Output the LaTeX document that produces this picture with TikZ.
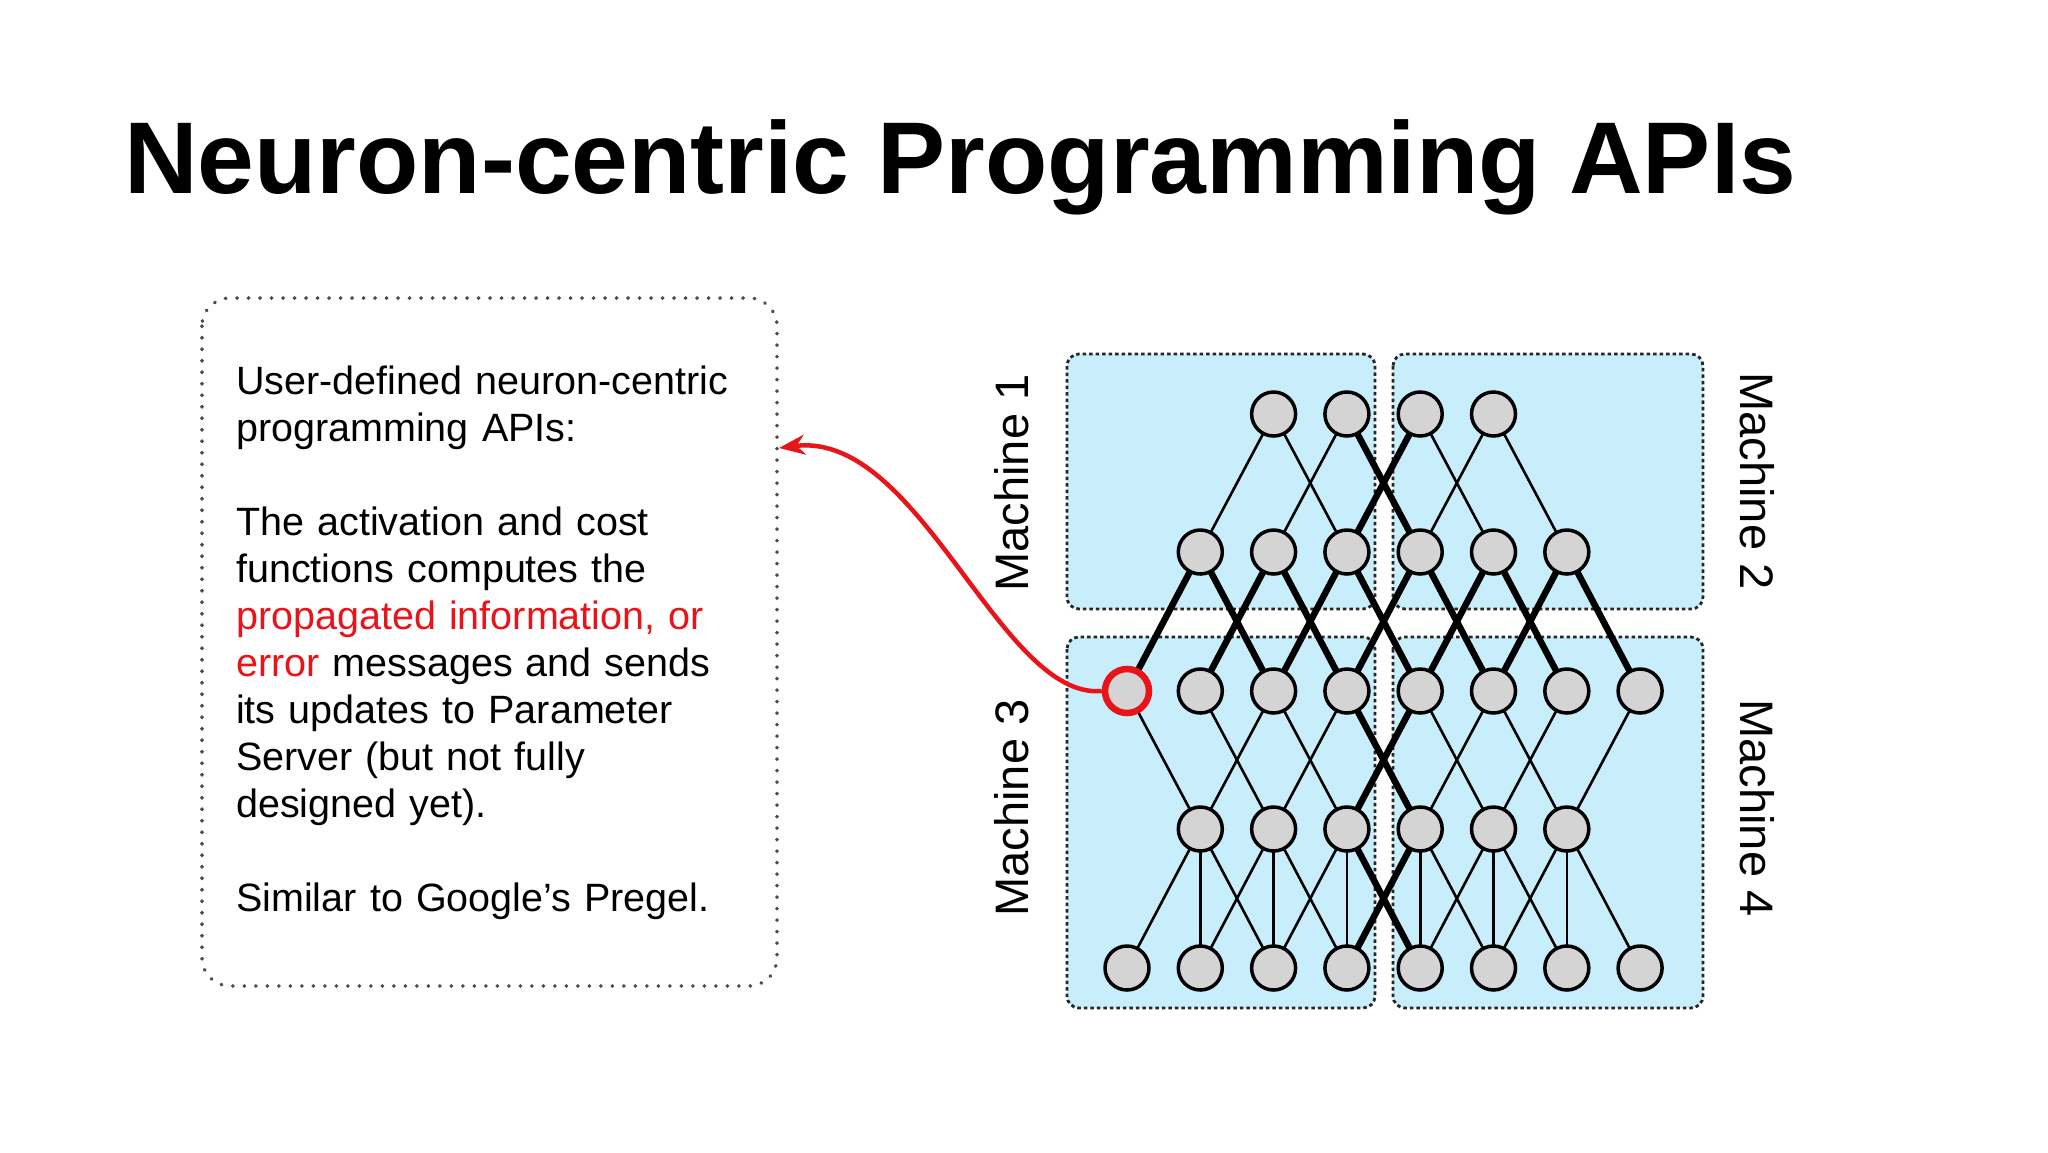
\documentclass[tikz,border=0pt]{standalone}
\usepackage{fontspec}
\setmainfont{Liberation Sans}
\usetikzlibrary{shapes.geometric,arrows.meta}
\definecolor{boxc}{HTML}{C8EEFC}
\definecolor{nodec}{HTML}{D4D4D4}
\definecolor{redc}{HTML}{E8141A}
\begin{document}
\begin{tikzpicture}[x=1pt,y=-1pt,
  neuron/.style={circle,draw=black,line width=3.5pt,fill=nodec,minimum size=44pt,inner sep=0pt},
  thin/.style={line width=2.6pt},
  thick/.style={line width=6.5pt},
  mbox/.style={draw=black!85,fill=boxc,dash pattern=on 3.5pt off 3pt,line width=2.8pt,rounded corners=12pt},
  mlabel/.style={font=\fontsize{47}{50}\selectfont},
  body/.style={font=\fontsize{39.5}{47}\selectfont,align=left,anchor=north west,inner sep=0pt,text width=600pt}]
\useasboundingbox (0,0) rectangle (2048,1152);
\fill[white] (0,0) rectangle (2048,1152);
\node[anchor=base west,inner sep=0pt,font=\fontsize{102}{110}\selectfont\bfseries] (title) at (124,193) {Neuron-centric Programming APIs};
% text box
\draw[dash pattern=on 0.5pt off 11pt,line width=3.6pt,line cap=round,gray!60!black,rounded corners=28pt] (202,298) rectangle (777,986);
\coordinate (tip) at (779,448);
\node[body] (txt) at (236,366) {User-defined neuron-centric\\programming APIs:\\[47pt]The activation and cost\\functions computes the\\\textcolor{redc}{propagated information, or}\\\textcolor{redc}{error} messages and sends\\its updates to Parameter\\Server (but not fully\\designed yet).\\[47pt]Similar to Google’s Pregel.};
% machine boxes
\draw[mbox] (1067,354) rectangle (1375,609);
\draw[mbox] (1393,354) rectangle (1703,609);
\draw[mbox] (1067,637) rectangle (1375,1008);
\draw[mbox] (1393,637) rectangle (1703,1008);
\node[mlabel,rotate=90] (m1) at (1012,483) {Machine 1};
\node[mlabel,rotate=-90] (m2) at (1757,481) {Machine 2};
\node[mlabel,rotate=90] (m3) at (1012,808) {Machine 3};
\node[mlabel,rotate=-90] (m4) at (1757,808) {Machine 4};
% node centres
\foreach \c in {2,...,5} \coordinate (n1-\c) at ({1127+73.3*\c},414);
\foreach \c in {1,...,6} \coordinate (n2-\c) at ({1127+73.3*\c},552);
\foreach \c in {0,...,7} \coordinate (n3-\c) at ({1127+73.3*\c},691);
\foreach \c in {1,...,6} \coordinate (n4-\c) at ({1127+73.3*\c},829);
\foreach \c in {0,...,7} \coordinate (n5-\c) at ({1127+73.3*\c},968);
\foreach \a/\b/\s in {2/1/thin,2/3/thin,3/2/thin,3/4/thick,4/3/thick,4/5/thin,5/4/thin,5/6/thin}
  \draw[\s] (n1-\a) -- (n2-\b);
\foreach \a/\b in {1/0,1/2,2/1,2/3,3/2,3/4,4/3,4/5,5/4,5/6,6/5,6/7}
  \draw[thick] (n2-\a) -- (n3-\b);
\foreach \a/\b/\s in {0/1/thin,1/2/thin,2/1/thin,2/3/thin,3/2/thin,3/4/thick,4/3/thick,4/5/thin,5/4/thin,5/6/thin,6/5/thin,7/6/thin}
  \draw[\s] (n3-\a) -- (n4-\b);
\foreach \a/\b/\s in {1/0/thin,1/1/thin,1/2/thin,2/1/thin,2/2/thin,2/3/thin,3/2/thin,3/3/thin,3/4/thick,4/3/thick,4/4/thin,4/5/thin,5/4/thin,5/5/thin,5/6/thin,6/5/thin,6/6/thin,6/7/thin}
  \draw[\s] (n4-\a) -- (n5-\b);
% neurons
\foreach \c in {2,...,5} \node[neuron] (m1-\c) at (n1-\c) {};
\foreach \c in {1,...,6} \node[neuron] (m2-\c) at (n2-\c) {};
\foreach \c in {1,...,7} \node[neuron] (m3-\c) at (n3-\c) {};
\foreach \c in {1,...,6} \node[neuron] (m4-\c) at (n4-\c) {};
\foreach \c in {0,...,7} \node[neuron] (m5-\c) at (n5-\c) {};
\node[neuron,draw=redc,line width=6.5pt] (red) at (n3-0) {};
\draw[redc,line width=4.5pt,-{Stealth[length=26pt,width=20pt]}] (red.west) .. controls (1000,700) and (920,430) .. (tip);
\end{tikzpicture}
\end{document}
